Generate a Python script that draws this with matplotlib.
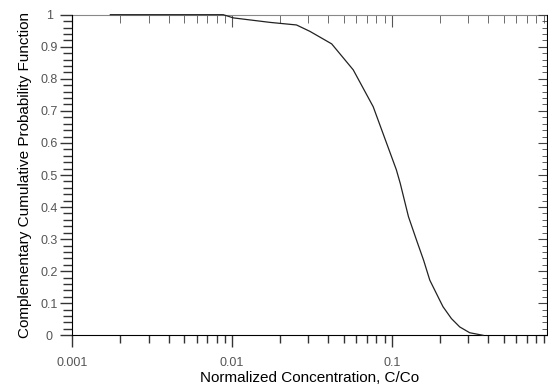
import numpy as np
import matplotlib
matplotlib.use('Agg')
import matplotlib.pyplot as plt
from matplotlib.ticker import LogLocator, MultipleLocator, NullFormatter, FixedFormatter, FixedLocator

# values
conc = [0.00173, 0.0088, 0.0102, 0.0173, 0.0253, 0.0307, 0.042, 0.0573, 0.0764, 0.0927,
        0.1067, 0.1128, 0.127, 0.1426, 0.158, 0.1727, 0.1995, 0.209, 0.236, 0.266, 0.307, 0.372]
ccpf = [1.0, 1.0, 0.99, 0.976, 0.968, 0.948, 0.909, 0.828, 0.713, 0.599,
        0.516, 0.474, 0.37, 0.297, 0.234, 0.172, 0.109, 0.089, 0.052, 0.026, 0.008, 0.0]

x_ticks = [0.001, 0.01, 0.1]
x_labels = ['0.001', '0.01', '0.1']
y_ticks = [0, 0.1, 0.2, 0.3, 0.4, 0.5, 0.6, 0.7, 0.8, 0.9, 1]
y_labels = ['0', '0.1', '0.2', '0.3', '0.4', '0.5', '0.6', '0.7', '0.8', '0.9', '1']

plt.rcParams['font.family'] = ['Liberation Sans', 'DejaVu Sans']

fig = plt.figure(figsize=(5.48, 3.87), dpi=100)
ax = fig.add_axes([72.3 / 548, 51.7 / 387, (547 - 72.3) / 548, (335.3 - 14.7) / 387])

ax.plot(conc, ccpf, color='#222222', lw=0.9, clip_on=False, zorder=5)

ax.set_xscale('log')
ax.set_xlim(0.001, 0.935)
ax.set_ylim(0, 1)

ax.xaxis.set_major_locator(FixedLocator(x_ticks))
ax.xaxis.set_major_formatter(FixedFormatter(x_labels))
ax.xaxis.set_minor_locator(LogLocator(base=10, subs=np.arange(2, 10)))
ax.xaxis.set_minor_formatter(NullFormatter())
ax.yaxis.set_major_locator(FixedLocator(y_ticks))
ax.yaxis.set_major_formatter(FixedFormatter(y_labels))
ax.yaxis.set_minor_locator(MultipleLocator(0.02))

pt = 72 / 100  # pixels to points
ax.tick_params(axis='x', which='major', direction='out', length=12 * pt, width=1, color='#333333',
               pad=10 * pt, labelsize=9, labelcolor='#555555')
ax.tick_params(axis='x', which='minor', direction='out', length=8 * pt, width=1, color='#333333')
ax.tick_params(axis='y', which='major', direction='out', length=12 * pt, width=1, color='#333333',
               pad=11 * pt, labelsize=9, labelcolor='#555555')
ax.tick_params(axis='y', which='minor', direction='out', length=9 * pt, width=1, color='#333333')

for lab in ax.get_yticklabels():
    lab.set_horizontalalignment('center')

# top ticks (inward) and right ticks (inward)
top = ax.secondary_xaxis('top')
top.set_xscale('log')
top.xaxis.set_major_locator(FixedLocator(x_ticks))
top.xaxis.set_minor_locator(LogLocator(base=10, subs=np.arange(2, 10)))
top.xaxis.set_major_formatter(NullFormatter())
top.xaxis.set_minor_formatter(NullFormatter())
top.tick_params(which='major', direction='in', length=12 * pt, color='#555555')
top.tick_params(which='minor', direction='in', length=8 * pt, color='#555555')
top.spines['top'].set_color('#888888')

right = ax.secondary_yaxis('right')
right.yaxis.set_major_locator(FixedLocator(y_ticks))
right.yaxis.set_minor_locator(MultipleLocator(0.02))
right.yaxis.set_major_formatter(NullFormatter())
right.tick_params(which='major', direction='in', length=9 * pt, color='#444444')
right.tick_params(which='minor', direction='in', length=5 * pt, color='#444444')

ax.spines['top'].set_visible(False)
ax.spines['right'].set_visible(False)

ax.set_xlabel('Normalized Concentration, C/Co', fontsize=11, labelpad=1)
ax.set_ylabel('Complementary Cumulative Probability Function', fontsize=11, labelpad=6)

fig.savefig('out.png', dpi=100)
